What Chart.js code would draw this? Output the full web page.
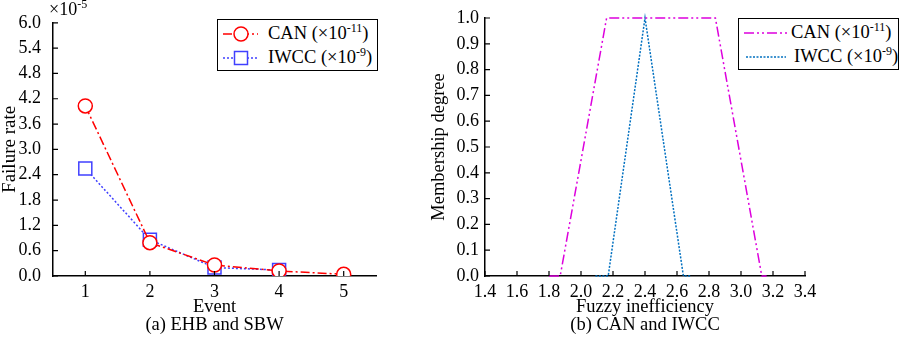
<!DOCTYPE html>
<html lang="en">

<head>
    <meta charset="UTF-8">
    <title>Failure rate and fuzzy inefficiency</title>

    <script src="https://cdn.jsdelivr.net/npm/chart.js"></script>

    <style>
        body {
            margin: 0;
            background-color: #fff;
            width: 899px;
            height: 337px;
            position: relative;
            overflow: hidden;
            font-family: "Liberation Serif", "Times New Roman", serif;
        }

        .panel {
            position: absolute;
            top: 0;
            height: 337px;
        }

        #left { left: 0; width: 420px; }
        #right { left: 420px; width: 479px; }

        .legend {
            position: absolute;
            background: #fff;
            border: 1.5px solid #000;
            font-size: 18.5px;
            line-height: 24px;
            padding-top: 2px;
            box-sizing: border-box;
            white-space: nowrap;
        }

        .legend .row { display: flex; align-items: center; height: 24px; }
        .legend svg { display: block; flex: none; }
        sup { font-size: 12px; vertical-align: baseline; position: relative; top: -7px; }

        .mult {
            position: absolute;
            left: 49px;
            top: -1px;
            font-size: 18px;
            line-height: 20px;
        }
    </style>
</head>

<body>
    <div class="panel" id="left"><canvas id="rateChart"></canvas></div>
    <div class="panel" id="right"><canvas id="fuzzyChart"></canvas></div>

    <div class="mult">×10<sup>-5</sup></div>

    <div class="legend" style="left:217px; top:19px; width:161px; height:52px;">
        <div class="row">
            <svg width="41" height="20" style="margin-left:4px">
                <line x1="1" y1="10" x2="36" y2="10" stroke="#ff0000" stroke-width="1.5" stroke-dasharray="9 3 2 3" />
                <circle cx="19" cy="10" r="7" fill="#fff" stroke="#ff0000" stroke-width="1.5" />
            </svg>
            <span style="margin-left:5px">CAN (×10<sup>-11</sup>)</span>
        </div>
        <div class="row">
            <svg width="41" height="20" style="margin-left:4px">
                <line x1="1" y1="10" x2="36" y2="10" stroke="#4040ff" stroke-width="1.5" stroke-dasharray="2 2" />
                <rect x="12.5" y="3.5" width="13" height="13" fill="#fff" stroke="#4040ff" stroke-width="1.5" />
            </svg>
            <span style="margin-left:5px">IWCC (×10<sup>-9</sup>)</span>
        </div>
    </div>

    <div class="legend" style="left:738px; top:18px; width:161px; height:52px;">
        <div class="row">
            <svg width="46" height="20" style="margin-left:4px">
                <line x1="1" y1="10" x2="45" y2="10" stroke="#dd00dd" stroke-width="1.5" stroke-dasharray="10 3 2 3 2 3" />
            </svg>
            <span style="margin-left:2px">CAN (×10<sup>-11</sup>)</span>
        </div>
        <div class="row">
            <svg width="46" height="20" style="margin-left:6px">
                <line x1="1" y1="10" x2="41" y2="10" stroke="#0070c0" stroke-width="1.5" stroke-dasharray="2 1.5" />
            </svg>
            <span style="margin-left:3px">IWCC (×10<sup>-9</sup>)</span>
        </div>
    </div>

    <script>
        // (a) failure rate per event, in units of 1e-5
        const events = ['1', '2', '3', '4', '5'];
        const canRate = [4.03, 0.79, 0.26, 0.12, 0.04];
        const iwccRate = [2.55, 0.86, 0.20, 0.14];
        const rateTicks = [0, 0.6, 1.2, 1.8, 2.4, 3.0, 3.6, 4.2, 4.8, 5.4, 6.0];

        // (b) membership functions
        const canX = [1.80, 1.87, 2.16, 2.84, 3.13, 3.16];
        const canMu = [0, 0, 1, 1, 0, 0];
        const iwccX = [2.09, 2.17, 2.40, 2.64, 2.69];
        const iwccMu = [0, 0, 1, 0, 0];
        const ineffTicks = [1.4, 1.6, 1.8, 2.0, 2.2, 2.4, 2.6, 2.8, 3.0, 3.2, 3.4];
        const muTicks = [0, 0.1, 0.2, 0.3, 0.4, 0.5, 0.6, 0.7, 0.8, 0.9, 1.0];

        const serif = '"Liberation Serif", "Times New Roman", serif';
        Chart.defaults.font.family = serif;
        Chart.defaults.font.size = 18;
        Chart.defaults.color = '#000';

        // tick marks drawn inside the plot, like the original figure
        const inwardTicks = {
            id: 'inwardTicks',
            afterDatasetsDraw(chart) {
                const { ctx, chartArea: a } = chart;
                const xs = chart.scales.x, ys = chart.scales.y;
                ctx.save();
                ctx.strokeStyle = '#000';
                ctx.lineWidth = 1.2;
                ctx.beginPath();
                xs.ticks.forEach((t, i) => {
                    const px = xs.getPixelForTick(i);
                    ctx.moveTo(px, a.bottom);
                    ctx.lineTo(px, a.bottom - 5);
                });
                ys.ticks.forEach((t, i) => {
                    const py = ys.getPixelForTick(i);
                    ctx.moveTo(a.left, py);
                    ctx.lineTo(a.left + 5, py);
                });
                ctx.stroke();
                ctx.restore();
            }
        };

        const axisBorder = { display: true, color: '#000', width: 1.5 };
        const titleFont = { size: 18.5, lineHeight: 0.97 };

        function xyPairs(xs, ys) {
            return xs.map((x, i) => ({ x: x, y: ys[i] }));
        }

        new Chart(document.getElementById('rateChart'), {
            type: 'line',
            data: {
                labels: events,
                datasets: [{
                    label: 'CAN',
                    data: canRate,
                    borderColor: '#ff0000',
                    borderWidth: 1.5,
                    borderDash: [9, 3, 2, 3],
                    pointStyle: 'circle',
                    pointRadius: 7,
                    pointBorderWidth: 1.5,
                    pointBackgroundColor: '#fff',
                    pointBorderColor: '#ff0000',
                    tension: 0
                }, {
                    label: 'IWCC',
                    data: iwccRate,
                    borderColor: '#4040ff',
                    borderWidth: 1.5,
                    borderDash: [2, 2],
                    pointStyle: 'rect',
                    pointRadius: 9.2,
                    pointBorderWidth: 1.5,
                    pointBackgroundColor: '#fff',
                    pointBorderColor: '#4040ff',
                    tension: 0
                }]
            },
            options: {
                responsive: true,
                maintainAspectRatio: false,
                animation: false,
                layout: { padding: { top: 19, right: 44, left: 0, bottom: 0 } },
                plugins: { legend: { display: false }, tooltip: { enabled: false } },
                scales: {
                    x: {
                        type: 'category',
                        offset: true,
                        grid: { display: false, drawTicks: false, offset: false },
                        border: axisBorder,
                        ticks: { padding: 5, font: { lineHeight: 1.2 } },
                        title: {
                            display: true,
                            text: ['Event', '(a) EHB and SBW'],
                            font: titleFont,
                            padding: { top: 0, bottom: 3 }
                        },
                        afterFit: s => { s.height = 61; }
                    },
                    y: {
                        min: 0,
                        max: 6,
                        grid: { display: false, drawTicks: false },
                        border: axisBorder,
                        ticks: { padding: 12, callback: v => v.toFixed(1) },
                        afterBuildTicks: s => { s.ticks = rateTicks.map(v => ({ value: v })); },
                        title: {
                            display: true,
                            text: 'Failure rate',
                            font: { size: 19, lineHeight: 1 },
                            padding: { top: 1, bottom: 0 }
                        },
                        afterFit: s => { s.width = 53; }
                    }
                }
            },
            plugins: [inwardTicks]
        });

        new Chart(document.getElementById('fuzzyChart'), {
            type: 'line',
            data: {
                datasets: [{
                    label: 'CAN',
                    data: xyPairs(canX, canMu),
                    borderColor: '#dd00dd',
                    borderWidth: 1.5,
                    borderDash: [10, 3, 2, 3, 2, 3],
                    pointRadius: 0,
                    tension: 0
                }, {
                    label: 'IWCC',
                    data: xyPairs(iwccX, iwccMu),
                    borderColor: '#0070c0',
                    borderWidth: 1.5,
                    borderDash: [2, 1.5],
                    pointRadius: 0,
                    tension: 0
                }]
            },
            options: {
                responsive: true,
                maintainAspectRatio: false,
                animation: false,
                clip: false,
                layout: { padding: { top: 18, right: 94, left: 0, bottom: 0 } },
                plugins: { legend: { display: false }, tooltip: { enabled: false } },
                scales: {
                    x: {
                        type: 'linear',
                        min: 1.4,
                        max: 3.4,
                        grid: { display: false, drawTicks: false },
                        border: axisBorder,
                        ticks: { padding: 5, font: { lineHeight: 1.2 }, callback: v => v.toFixed(1) },
                        afterBuildTicks: s => { s.ticks = ineffTicks.map(v => ({ value: v })); },
                        title: {
                            display: true,
                            text: ['Fuzzy inefficiency', '(b) CAN and IWCC'],
                            font: titleFont,
                            padding: { top: 0, bottom: 3 }
                        },
                        afterFit: s => { s.height = 61; }
                    },
                    y: {
                        min: 0,
                        max: 1,
                        grid: { display: false, drawTicks: false },
                        border: axisBorder,
                        ticks: { padding: 6, callback: v => v.toFixed(1) },
                        afterBuildTicks: s => { s.ticks = muTicks.map(v => ({ value: v })); },
                        title: {
                            display: true,
                            text: 'Membership degree',
                            font: { size: 18.5, lineHeight: 1 },
                            padding: { top: 10, bottom: 0 }
                        },
                        afterFit: s => { s.width = 65; }
                    }
                }
            },
            plugins: [inwardTicks]
        });
    </script>
</body>

</html>
